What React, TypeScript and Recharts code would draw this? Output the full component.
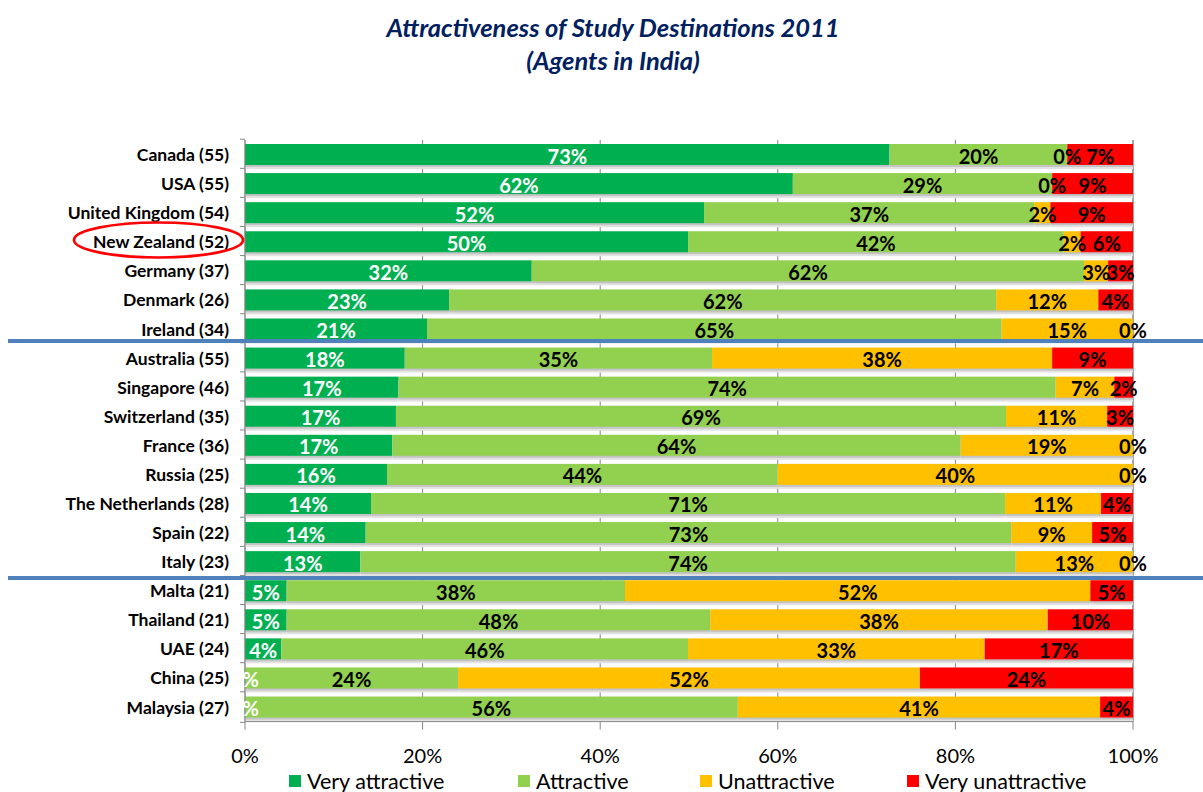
import React from 'react';
import { BarChart, Bar, XAxis, YAxis, CartesianGrid, LabelList } from 'recharts';

const categories = [
  'Canada (55)', 'USA (55)', 'United Kingdom (54)', 'New Zealand (52)', 'Germany (37)',
  'Denmark (26)', 'Ireland (34)', 'Australia (55)', 'Singapore (46)', 'Switzerland (35)',
  'France (36)', 'Russia (25)', 'The Netherlands (28)', 'Spain (22)', 'Italy (23)',
  'Malta (21)', 'Thailand (21)', 'UAE (24)', 'China (25)', 'Malaysia (27)',
];

const veryAttractive = [72.6, 61.7, 51.7, 49.9, 32.3, 23.0, 20.5, 18.0, 17.3, 17.0, 16.6, 16.0, 14.2, 13.6, 13.0, 4.7, 4.7, 4.1, 0, 0];
const attractive = [20.0, 29.2, 37.2, 42.3, 62.2, 61.6, 64.7, 34.6, 74.0, 68.7, 64.0, 44.0, 71.4, 72.7, 73.8, 38.1, 47.7, 45.8, 24.0, 55.5];
const unattractive = [0, 0, 1.8, 1.9, 2.7, 11.5, 14.8, 38.3, 6.6, 11.4, 19.4, 40.0, 10.8, 9.1, 13.2, 52.4, 38.0, 33.4, 52.0, 40.8];
const veryUnattractive = [7.4, 9.1, 9.3, 5.9, 2.8, 3.9, 0, 9.1, 2.1, 2.9, 0, 0, 3.6, 4.6, 0, 4.8, 9.6, 16.7, 24.0, 3.7];

const xTicks = [0, 20, 40, 60, 80, 100];

const series = [
  { key: 'va', name: 'Very attractive', color: '#00B050', text: '#ffffff' },
  { key: 'a', name: 'Attractive', color: '#92D050', text: '#000000' },
  { key: 'u', name: 'Unattractive', color: '#FFC000', text: '#000000' },
  { key: 'vu', name: 'Very unattractive', color: '#FF0000', text: '#000000' },
];

const data = categories.map((name, i) => ({
  name,
  va: veryAttractive[i],
  a: attractive[i],
  u: unattractive[i],
  vu: veryUnattractive[i],
}));

const FONT = 'Lato, "Liberation Sans", Arial, sans-serif';
const HALF_BAND = 15.3;

const ShadowBar = (props: any) => {
  const { x, y, width, height, fill } = props;
  if (width == null || height == null) return null;
  return (
    <g>
      <rect x={x} y={y + 4} width={Math.max(width, 0)} height={height} fill="#e2e2e2" />
      <rect x={x} y={y + 2} width={Math.max(width, 0)} height={height} fill="#c4c4c4" />
      <rect x={x} y={y} width={Math.max(width, 0)} height={height} fill={fill} />
    </g>
  );
};

const makeLabel = (color: string) => (props: any) => {
  const { x, y, width, height } = props;
  let v = props.value;
  if (Array.isArray(v)) v = v[1] - v[0];
  if (v == null || x == null) return null;
  return (
    <text
      x={x + width / 2}
      y={y + height / 2 + 1}
      textAnchor="middle"
      dominantBaseline="central"
      fill={color}
      fontWeight={700}
      fontSize={20}
      fontFamily={FONT}
    >
      {Math.round(v)}%
    </text>
  );
};

const CategoryTick = (props: any) => {
  const { x, y, payload, index } = props;
  const last = index === categories.length - 1;
  return (
    <g>
      <line x1={x - 5} x2={x} y1={y - HALF_BAND} y2={y - HALF_BAND} stroke="#868686" />
      {last && <line x1={x - 5} x2={x} y1={y + HALF_BAND} y2={y + HALF_BAND} stroke="#868686" />}
      <text x={x - 16} y={y} textAnchor="end" dominantBaseline="central" fontSize={17.5} fontWeight={700} fontFamily={FONT} fill="#000">
        {payload.value}
      </text>
    </g>
  );
};

export default function App() {
  return (
    <div style={{ position: 'absolute', left: 0, top: 0, width: 1203, height: 792, background: '#fff', overflow: 'hidden', fontFamily: FONT }}>
      <div style={{ position: 'absolute', top: 11, left: 0, width: 1226, textAlign: 'center', color: '#002060', fontWeight: 700, fontStyle: 'italic', fontSize: 25.5, lineHeight: '33px' }}>
        <div>Attractiveness of Study Destinations 2011</div>
        <div>(Agents in India)</div>
      </div>

      <BarChart
        width={1203}
        height={792}
        data={data}
        layout="vertical"
        margin={{ top: 140, right: 70, bottom: 0, left: 0 }}
        barSize={21}
      >
        <CartesianGrid horizontal={false} vertical stroke="#868686" />
        <XAxis
          type="number"
          domain={[0, 100]}
          ticks={xTicks}
          tickFormatter={(v: number) => `${v}%`}
          height={70.4}
          tickSize={8}
          tickMargin={19}
          stroke="#868686"
          tick={{ fill: '#000', fontSize: 20, fontFamily: FONT }}
          interval={0}
        />
        <YAxis
          type="category"
          dataKey="name"
          width={245}
          tickLine={false}
          tickSize={0}
          tickMargin={0}
          stroke="#868686"
          tick={<CategoryTick />}
          interval={0}
        />
        {series.map((s) => (
          <Bar key={s.key} dataKey={s.key} name={s.name} stackId="s" fill={s.color} shape={<ShadowBar />} isAnimationActive={false}>
            <LabelList dataKey={s.key} content={makeLabel(s.text)} />
          </Bar>
        ))}
      </BarChart>

      <div style={{ position: 'absolute', left: 8, top: 339, width: 1195, height: 4, background: '#4F81BD' }} />
      <div style={{ position: 'absolute', left: 8, top: 576, width: 1195, height: 4, background: '#4F81BD' }} />

      <svg style={{ position: 'absolute', left: 0, top: 0 }} width={1203} height={792} pointerEvents="none">
        <ellipse cx={158.5} cy={240} rx={84.5} ry={17.5} fill="none" stroke="#FF0000" strokeWidth={2.7} />
      </svg>

      <div style={{ position: 'absolute', top: 768, left: 0, width: 1203, height: 30, fontSize: 21.5, color: '#000' }}>
        {series.map((s, i) => (
          <div key={s.key} style={{ position: 'absolute', left: [289, 518, 700, 907][i], top: 0, display: 'flex', alignItems: 'center', whiteSpace: 'nowrap' }}>
            <span style={{ display: 'inline-block', width: 12, height: 12, background: s.color, marginRight: 6 }} />
            <span style={{ lineHeight: '26px' }}>{s.name}</span>
          </div>
        ))}
      </div>
    </div>
  );
}
